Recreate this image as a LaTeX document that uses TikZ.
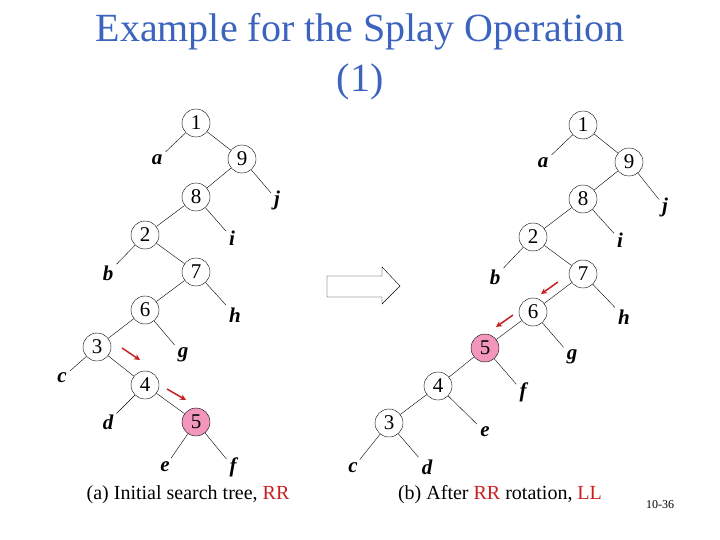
\documentclass[tikz,border=0pt]{standalone}
\usepackage{fontspec}
\setmainfont{Liberation Serif}
\usetikzlibrary{arrows.meta}
\definecolor{ttl}{RGB}{60,100,190}
\definecolor{pinkf}{RGB}{242,150,190}
\definecolor{rr}{RGB}{200,30,30}
\begin{document}
\begin{tikzpicture}[x=1pt,y=-1pt,
 nd/.style={circle,draw,thin,minimum size=28pt,inner sep=0pt,font=\fontsize{21}{21}\selectfont},
 hot/.style={nd,fill=pinkf},
 lf/.style={inner sep=1pt,font=\fontsize{21}{21}\selectfont\bfseries\itshape},
 ed/.style={thin},
 le/.style={thin,shorten >=3pt},
 ra/.style={draw=rr,line width=1.5pt,-{Stealth[length=6pt,width=6pt]}}]
\useasboundingbox (0,0) rectangle (720,540);
\node[text=ttl,font=\fontsize{40}{40}\selectfont] (t1) at (360,32) {Example for the Splay Operation};
\node[text=ttl,font=\fontsize{40}{40}\selectfont] (t2) at (360,82) {(1)};
% left tree
\node[nd] (l1) at (196,123) {1};
\node[nd] (l9) at (242,159) {9};
\node[nd] (l8) at (196,197) {8};
\node[nd] (l2) at (145,235) {2};
\node[nd] (l7) at (196,272) {7};
\node[nd] (l6) at (145,310) {6};
\node[nd] (l3) at (97,347) {3};
\node[nd] (l4) at (145,385) {4};
\node[hot] (l5) at (196,422) {5};
\node[lf] (la) at (157,160) {a};
\node[lf] (lj) at (277,200) {j};
\node[lf] (li) at (232,238) {i};
\node[lf] (lb) at (108,273) {b};
\node[lf] (lh) at (235,315) {h};
\node[lf] (lg) at (183,355) {g};
\node[lf] (lc) at (62,378) {c};
\node[lf] (ld) at (108,422) {d};
\node[lf] (le) at (165,467) {e};
\node[lf] (lf) at (233,467) {f};
\draw[ed] (l1)--(l9) (l9)--(l8) (l8)--(l2) (l2)--(l7) (l7)--(l6) (l6)--(l3) (l3)--(l4) (l4)--(l5);
\draw[le] (l1)--(la); \draw[le] (l9)--(lj); \draw[le] (l8)--(li); \draw[le] (l2)--(lb);
\draw[le] (l7)--(lh); \draw[le] (l6)--(lg); \draw[le] (l3)--(lc); \draw[le] (l4)--(ld);
\draw[le] (l5)--(le); \draw[le] (l5)--(lf);
\coordinate (ra1) at (122,348); \coordinate (ra2) at (140,360);
\coordinate (ra3) at (167,389); \coordinate (ra4) at (186,400);
\draw[ra] (ra1)--(ra2); \draw[ra] (ra3)--(ra4);
% right tree
\node[nd] (r1) at (583,125) {1};
\node[nd] (r9) at (629,162) {9};
\node[nd] (r8) at (583,199) {8};
\node[nd] (r2) at (533,237) {2};
\node[nd] (r7) at (583,274) {7};
\node[nd] (r6) at (533,312) {6};
\node[hot] (r5) at (485,348) {5};
\node[nd] (r4) at (438,386) {4};
\node[nd] (r3) at (389,423) {3};
\node[lf] (ra) at (543,163) {a};
\node[lf] (rj) at (665,207) {j};
\node[lf] (ri) at (620,240) {i};
\node[lf] (rb) at (495,277) {b};
\node[lf] (rh) at (624,317) {h};
\node[lf] (rg) at (572,357) {g};
\node[lf] (rf) at (523,392) {f};
\node[lf] (re) at (485,432) {e};
\node[lf] (rc) at (353,468) {c};
\node[lf] (rd) at (427,467) {d};
\draw[ed] (r1)--(r9) (r9)--(r8) (r8)--(r2) (r2)--(r7) (r7)--(r6) (r6)--(r5) (r5)--(r4) (r4)--(r3);
\draw[le] (r1)--(ra); \draw[le] (r9)--(rj); \draw[le] (r8)--(ri); \draw[le] (r2)--(rb);
\draw[le] (r7)--(rh); \draw[le] (r6)--(rg); \draw[le] (r5)--(rf); \draw[le] (r4)--(re);
\draw[le] (r3)--(rc); \draw[le] (r3)--(rd);
\coordinate (rb1) at (558,282); \coordinate (rb2) at (541,294);
\coordinate (rb3) at (513,315); \coordinate (rb4) at (496,327);
\draw[ra] (rb1)--(rb2); \draw[ra] (rb3)--(rb4);
% big arrow
\draw[thin,fill=white] (327,276)--(382,276)--(382,267)--(400,286)--(382,304)--(382,297)--(327,297)--cycle;
% captions
\node[font=\fontsize{20}{20}\selectfont] (ca) at (188,495) {(a) Initial search tree, \textcolor{rr}{RR}};
\node[font=\fontsize{20}{20}\selectfont] (cb) at (500,495) {(b) After \textcolor{rr}{RR} rotation, \textcolor{rr}{LL}};
\node[font=\fontsize{12}{12}\selectfont] (pg) at (660,505) {10-36};
\end{tikzpicture}
\end{document}
